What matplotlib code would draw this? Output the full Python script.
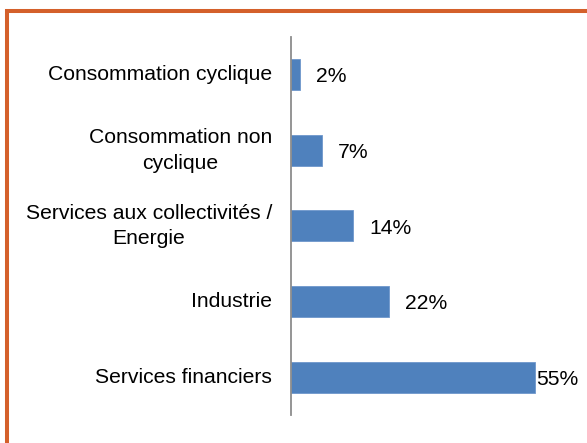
import matplotlib
matplotlib.use('Agg')
import matplotlib.pyplot as plt
from matplotlib.patches import Rectangle

categories = ['Consommation cyclique', 'Consommation non\ncyclique',
              'Services aux collectivités /\nEnergie', 'Industrie',
              'Services financiers']
values = [2, 7, 14, 22, 55]
labels = ['2%', '7%', '14%', '22%', '55%']

plt.rcParams['font.family'] = ['Liberation Sans', 'DejaVu Sans']

fig = plt.figure(figsize=(5.87, 4.43), dpi=100)
ax = fig.add_axes([0.4957, 0.0632, 0.4923, 0.8533])

pos = list(range(len(categories)))
ax.barh(pos, values, height=0.41, color='#4F81BD', edgecolor='#6E97CC', linewidth=0.6)
ax.set_xlim(0, 65.1)
ax.set_ylim(len(categories) - 0.5, -0.5)

ax.set_yticks(pos)
ax.set_yticklabels(categories, fontsize=15.2, ha='right', va='center',
                   multialignment='center', linespacing=1.42)
ax.tick_params(axis='y', length=0, pad=13.5)
ax.set_xticks([])

for s in ['top', 'right', 'bottom']:
    ax.spines[s].set_visible(False)
ax.spines['left'].set_color('#8C8C8C')
ax.spines['left'].set_linewidth(1.3)

# data labels, the biggest one gets squeezed against the plot edge
for p, v, t in zip(pos, values, labels):
    off = 1 if v == max(values) else 11.5
    ax.annotate(t, (v, p), xytext=(off, -1.5), textcoords='offset points',
                va='center', ha='left', fontsize=15.2)

# orange frame, cut off at right and bottom
fig.patches.append(Rectangle((7 / 587, -0.1), 1.2, 1 - 11 / 443 + 0.1,
                             transform=fig.transFigure, fill=False,
                             edgecolor='#D4602B', linewidth=2.9))

fig.savefig('out.png', dpi=100)
